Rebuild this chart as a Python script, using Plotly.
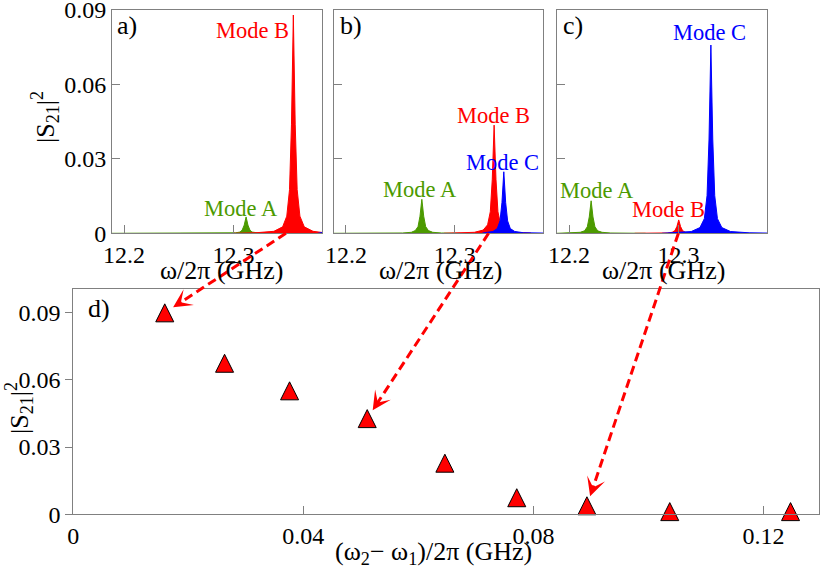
import math
import plotly.graph_objects as go

# ---------------- data ----------------
# panel a)  |S21|^2 vs omega/2pi (GHz)
a_A_x = [12.189, 12.277, 12.294, 12.302, 12.306, 12.308, 12.3099, 12.3116, 12.3133, 12.3151, 12.317, 12.322, 12.330]
a_A_y = [0, 0.00002, 0.00006, 0.0002, 0.0005, 0.0013, 0.0033, 0.0066, 0.0033, 0.0013, 0.0005, 0.0002, 0.00006]
a_B_x = [12.300, 12.320, 12.337, 12.345, 12.3488, 12.3513, 12.3531, 12.3548, 12.3565, 12.3583, 12.3608, 12.3648, 12.3728, 12.381]
a_B_y = [0, 0.0002, 0.0008, 0.0026, 0.0069, 0.0176, 0.044, 0.088, 0.044, 0.0176, 0.0069, 0.0026, 0.0008, 0.00035]
a_C_x = [12.377, 12.381]
a_C_y = [0, 0.0003]

# panel b)
b_A_x = [12.189, 12.235, 12.252, 12.260, 12.2637, 12.2662, 12.268, 12.2697, 12.2714, 12.2732, 12.2757, 12.2797, 12.2877, 12.305]
b_A_y = [0, 0.00003, 0.00013, 0.0004, 0.0011, 0.0027, 0.0069, 0.0137, 0.0069, 0.0027, 0.0011, 0.0004, 0.00013, 0.00003]
b_B_x = [12.290, 12.301, 12.318, 12.326, 12.3301, 12.3326, 12.3344, 12.3361, 12.3378, 12.3396, 12.3421, 12.3461, 12.354, 12.370]
b_B_y = [0, 0.0001, 0.0004, 0.0013, 0.0034, 0.0087, 0.0218, 0.0436, 0.0218, 0.0087, 0.0034, 0.0013, 0.0004, 0.0001]
b_C_x = [12.325, 12.327, 12.335, 12.339, 12.3415, 12.3433, 12.345, 12.3467, 12.3485, 12.351, 12.355, 12.363, 12.381]
b_C_y = [0, 0.00023, 0.00074, 0.0019, 0.005, 0.0124, 0.0248, 0.0124, 0.005, 0.0019, 0.00074, 0.00023, 0.0001]

# panel c)
c_A_x = [12.189, 12.2022, 12.2102, 12.2142, 12.2167, 12.2185, 12.2202, 12.2219, 12.2237, 12.2262, 12.2302, 12.2382, 12.2552, 12.270]
c_A_y = [0, 0.00012, 0.0004, 0.001, 0.0026, 0.0066, 0.0131, 0.0066, 0.0026, 0.001, 0.0004, 0.00012, 0.00003, 0]
c_B_x = [12.260, 12.2823, 12.2903, 12.2943, 12.2968, 12.2986, 12.3003, 12.302, 12.3038, 12.3063, 12.3103, 12.3183, 12.330]
c_B_y = [0, 0.00005, 0.00016, 0.0004, 0.0011, 0.0027, 0.0054, 0.0027, 0.0011, 0.0004, 0.00016, 0.00005, 0]
c_C_x = [12.285, 12.2947, 12.3117, 12.3197, 12.3237, 12.3262, 12.328, 12.3297, 12.3314, 12.3332, 12.3357, 12.3397, 12.3477, 12.3647, 12.381]
c_C_y = [0, 0.0002, 0.0007, 0.0023, 0.0059, 0.0152, 0.038, 0.0759, 0.038, 0.0152, 0.0059, 0.0023, 0.0007, 0.0002, 0.0001]

# panel d)  |S21|^2 of mode B vs (w2-w1)/2pi
d_x = [0.0159, 0.0263, 0.0376, 0.0511, 0.0646, 0.0771, 0.0893, 0.1037, 0.1247]
d_y = [0.0899, 0.0674, 0.0551, 0.0427, 0.0228, 0.0074, 0.0038, 0.0012, 0.0012]

# arrows: start on the frequency axis of panels a,b,c -> point of panel d
arrow_from_x = [12.348, 12.331, 12.300]
arrow_to_idx = [0, 3, 6]

top_xticks = [12.2, 12.3]
top_xticktext = ["12.2", "12.3"]
top_yticks = [0, 0.03, 0.06, 0.09]
top_yticktext = ["0", "0.03", "0.06", "0.09"]
d_xticks = [0, 0.04, 0.08, 0.12]
d_xticktext = ["0", "0.04", "0.08", "0.12"]
d_yticks = [0, 0.03, 0.06, 0.09]
d_yticktext = ["0", "0.03", "0.06", "0.09"]

# ---------------- geometry / style ----------------
W, H = 830, 576
FONT = "'Liberation Serif', 'Times New Roman', Times, serif"
RED, GREEN, BLUE = "#ff0000", "#4c9a00", "#0000ff"
FRAME = "#808080"
TOP_X = [(112, 322), (334, 543), (557, 767)]
TOP_Y = (10, 233.3)
D_X = (73.3, 819.3)
D_Y = (289.3, 514.3)
XR_TOP = [12.189, 12.381]
YR_TOP = [0, 0.09002]
XR_D = [0, 0.1297]
YR_D = [0, 0.1004]


def dom_x(p):
    return [p[0] / W, p[1] / W]


def dom_y(p):
    return [1 - p[1] / H, 1 - p[0] / H]


def px_top(i, xv, yv):
    x0, x1 = TOP_X[i]
    px = x0 + (xv - XR_TOP[0]) / (XR_TOP[1] - XR_TOP[0]) * (x1 - x0)
    py = TOP_Y[1] - (yv - YR_TOP[0]) / (YR_TOP[1] - YR_TOP[0]) * (TOP_Y[1] - TOP_Y[0])
    return px, py


def px_d(xv, yv):
    px = D_X[0] + (xv - XR_D[0]) / (XR_D[1] - XR_D[0]) * (D_X[1] - D_X[0])
    py = D_Y[1] - (yv - YR_D[0]) / (YR_D[1] - YR_D[0]) * (D_Y[1] - D_Y[0])
    return px, py


fig = go.Figure()

panels = [
    [(a_A_x, a_A_y, GREEN), (a_B_x, a_B_y, RED), (a_C_x, a_C_y, BLUE)],
    [(b_A_x, b_A_y, GREEN), (b_B_x, b_B_y, RED), (b_C_x, b_C_y, BLUE)],
    [(c_A_x, c_A_y, GREEN), (c_B_x, c_B_y, RED), (c_C_x, c_C_y, BLUE)],
]
for i, traces in enumerate(panels):
    ax = "x" if i == 0 else f"x{i + 1}"
    ay = "y" if i == 0 else f"y{i + 1}"
    for xs, ys, col in traces:
        fig.add_trace(go.Scatter(x=xs, y=ys, xaxis=ax, yaxis=ay, mode="lines",
                                 fill="tozeroy", fillcolor=col,
                                 line=dict(color=col, width=1), hoverinfo="skip",
                                 showlegend=False))

fig.add_trace(go.Scatter(x=d_x, y=d_y, xaxis="x4", yaxis="y4", mode="markers",
                         cliponaxis=False,
                         marker=dict(symbol="arrow-down", angle=180, standoff=9, size=18,
                                     color=RED, line=dict(color="black", width=1)),
                         showlegend=False))

tickfont = dict(family=FONT, size=24, color="black")
common = dict(showline=True, linecolor=FRAME, linewidth=1, mirror=True, showgrid=False,
              zeroline=False, tickcolor=FRAME, tickwidth=1, tickfont=tickfont,
              automargin=False, fixedrange=True, ticklabeloverflow="allow")

layout = dict(width=W, height=H, margin=dict(l=0, r=0, t=0, b=0),
              paper_bgcolor="white", plot_bgcolor="white", showlegend=False)
for i in range(3):
    sx = "" if i == 0 else str(i + 1)
    layout["xaxis" + sx] = dict(domain=dom_x(TOP_X[i]), range=XR_TOP, anchor="y" + sx,
                                tickvals=top_xticks, ticktext=top_xticktext,
                                ticks="inside", ticklen=8, **common)
    layout["yaxis" + sx] = dict(domain=dom_y(TOP_Y), range=YR_TOP, anchor="x" + sx,
                                tickvals=top_yticks, ticktext=top_yticktext,
                                showticklabels=(i == 0), ticks="inside", ticklen=8, **common)
layout["xaxis4"] = dict(domain=dom_x(D_X), range=XR_D, anchor="y4", tickvals=d_xticks,
                        ticktext=d_xticktext, ticks="inside", ticklen=8, **common)
layout["yaxis4"] = dict(domain=dom_y(D_Y), range=YR_D, anchor="x4", tickvals=d_yticks,
                        ticktext=d_yticktext, ticks="outside", ticklen=7, **common)
fig.update_layout(**layout)

# ---------------- text ----------------
def label(text, px, py, color="black", size=22.5, angle=0):
    fig.add_annotation(text=text, x=px / W, y=1 - py / H, xref="paper", yref="paper",
                       xanchor="center", yanchor="middle", showarrow=False, textangle=angle,
                       font=dict(family=FONT, size=size, color=color))


label("a)", 127, 26, size=26)
label("b)", 351, 26, size=26)
label("c)", 573, 26, size=26)
label("d)", 99, 308, size=26)
label("Mode B", 252, 31, RED)
label("Mode A", 241, 208, GREEN)
label("Mode B", 493, 115, RED)
label("Mode C", 502.5, 162, BLUE)
label("Mode A", 420, 189, GREEN)
label("Mode C", 709, 33, BLUE)
label("Mode A", 597, 190, GREEN)
label("Mode B", 668, 210, RED)
for cx in (221.5, 440, 663):
    label("ω/2π (GHz)", cx, 270, size=26)
label("(ω<sub>2</sub>− ω<sub>1</sub>)/2π (GHz)", 433.5, 553, size=26)
label("|S<sub>21</sub>|<sup>2</sup>", 45, 117, size=26, angle=-90)
label("|S<sub>21</sub>|<sup>2</sup>", 19, 408, size=26, angle=-90)

# ---------------- dashed arrows ----------------
for k in range(3):
    sx, sy = px_top(k, arrow_from_x[k], 0)
    cx, cy = px_d(d_x[arrow_to_idx[k]], d_y[arrow_to_idx[k]])
    dx, dy = sx - cx, sy - cy
    n = math.hypot(dx, dy)
    ux, uy = dx / n, dy / n
    tx, ty = cx + 10 * ux, cy + 10 * uy
    ex, ey = tx + 6 * ux, ty + 6 * uy
    fig.add_shape(type="line", xref="paper", yref="paper",
                  x0=sx / W, y0=1 - sy / H, x1=ex / W, y1=1 - ey / H,
                  line=dict(color=RED, width=3, dash="9px,5px"))
    fig.add_annotation(x=tx / W, y=1 - ty / H, xref="paper", yref="paper", text="",
                       showarrow=True, axref="pixel", ayref="pixel",
                       ax=ux * 8, ay=uy * 8, arrowhead=3, arrowsize=1.25,
                       arrowwidth=2.5, arrowcolor=RED, standoff=0)

fig.write_html("out.html", config={"displayModeBar": False},
               post_script="document.body.style.margin='0px';")
